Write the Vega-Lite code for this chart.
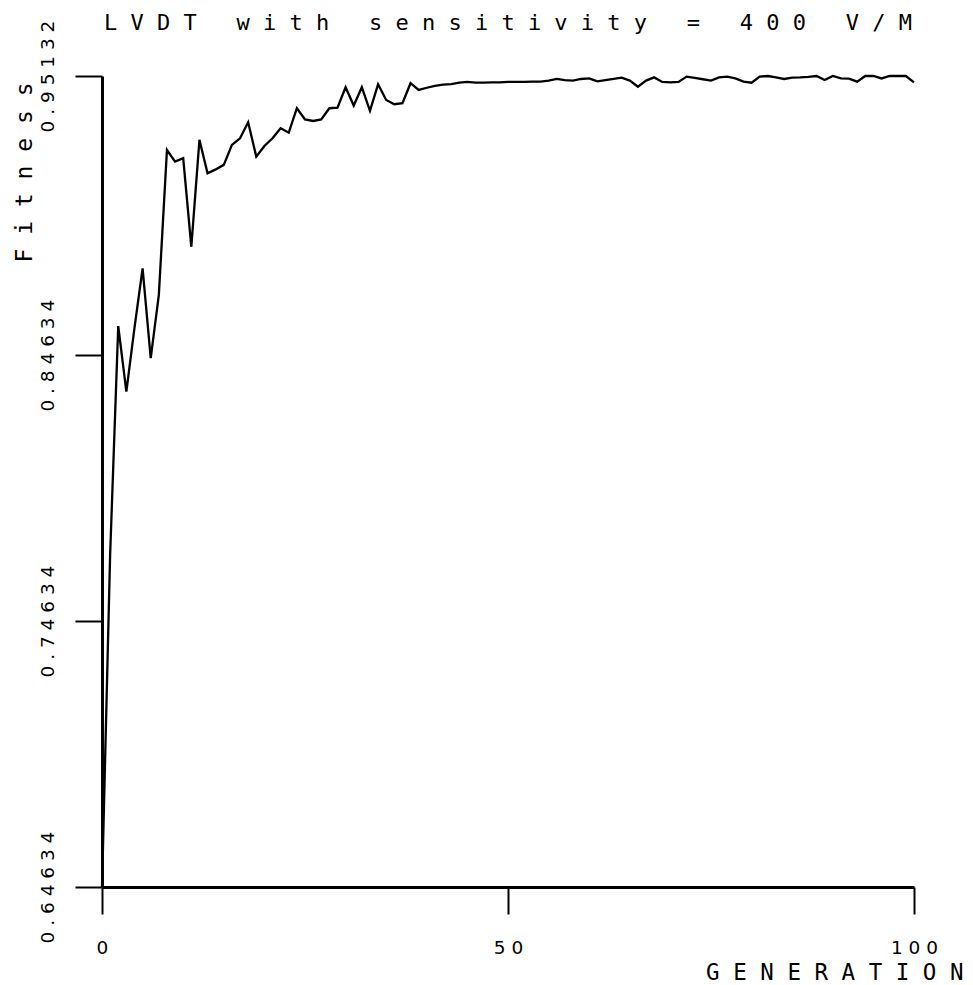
{
  "$schema": "https://vega.github.io/schema/vega-lite/v6.json",
  "width": 812,
  "height": 811,
  "autosize": {"type": "none"},
  "padding": {"left": 102, "top": 76, "right": 59, "bottom": 98},
  "background": "white",
  "config": {"view": {"stroke": null}},
  "title": {
    "text": "L V D T\u00a0\u00a0\u00a0w i t h\u00a0\u00a0\u00a0s e n s i t i v i t y\u00a0\u00a0\u00a0=\u00a0\u00a0\u00a04 0 0\u00a0\u00a0\u00a0V / M",
    "font": "DejaVu Sans Mono",
    "fontSize": 22,
    "fontWeight": "normal",
    "color": "black",
    "anchor": "middle",
    "frame": "group",
    "baseline": "alphabetic",
    "offset": -32
  },
  "data": {
    "values": [
      {"generation": 0, "fitness": 0.64634},
      {"generation": 1, "fitness": 0.7712},
      {"generation": 2, "fitness": 0.8573},
      {"generation": 3, "fitness": 0.8326},
      {"generation": 4, "fitness": 0.8566},
      {"generation": 5, "fitness": 0.879},
      {"generation": 6, "fitness": 0.8452},
      {"generation": 7, "fitness": 0.869},
      {"generation": 8, "fitness": 0.9235},
      {"generation": 9, "fitness": 0.9191},
      {"generation": 10, "fitness": 0.9204},
      {"generation": 11, "fitness": 0.8871},
      {"generation": 12, "fitness": 0.9273},
      {"generation": 13, "fitness": 0.9147},
      {"generation": 14, "fitness": 0.9162},
      {"generation": 15, "fitness": 0.9179},
      {"generation": 16, "fitness": 0.9254},
      {"generation": 17, "fitness": 0.9279},
      {"generation": 18, "fitness": 0.9339},
      {"generation": 19, "fitness": 0.921},
      {"generation": 20, "fitness": 0.925},
      {"generation": 21, "fitness": 0.9279},
      {"generation": 22, "fitness": 0.9317},
      {"generation": 23, "fitness": 0.93},
      {"generation": 24, "fitness": 0.9392},
      {"generation": 25, "fitness": 0.935},
      {"generation": 26, "fitness": 0.9344},
      {"generation": 27, "fitness": 0.935},
      {"generation": 28, "fitness": 0.9392},
      {"generation": 29, "fitness": 0.9394},
      {"generation": 30, "fitness": 0.9471},
      {"generation": 31, "fitness": 0.9402},
      {"generation": 32, "fitness": 0.9471},
      {"generation": 33, "fitness": 0.9382},
      {"generation": 34, "fitness": 0.9482},
      {"generation": 35, "fitness": 0.9423},
      {"generation": 36, "fitness": 0.9407},
      {"generation": 37, "fitness": 0.9411},
      {"generation": 38, "fitness": 0.9486},
      {"generation": 39, "fitness": 0.9461},
      {"generation": 40, "fitness": 0.9469},
      {"generation": 41, "fitness": 0.9476},
      {"generation": 42, "fitness": 0.9481},
      {"generation": 43, "fitness": 0.9483},
      {"generation": 44, "fitness": 0.9488},
      {"generation": 45, "fitness": 0.9491},
      {"generation": 46, "fitness": 0.9488},
      {"generation": 47, "fitness": 0.9488},
      {"generation": 48, "fitness": 0.9489},
      {"generation": 49, "fitness": 0.9489},
      {"generation": 50, "fitness": 0.9491},
      {"generation": 51, "fitness": 0.9491},
      {"generation": 52, "fitness": 0.9491},
      {"generation": 53, "fitness": 0.9492},
      {"generation": 54, "fitness": 0.9492},
      {"generation": 55, "fitness": 0.9496},
      {"generation": 56, "fitness": 0.9502},
      {"generation": 57, "fitness": 0.9498},
      {"generation": 58, "fitness": 0.9496},
      {"generation": 59, "fitness": 0.9502},
      {"generation": 60, "fitness": 0.9504},
      {"generation": 61, "fitness": 0.9493},
      {"generation": 62, "fitness": 0.9498},
      {"generation": 63, "fitness": 0.9502},
      {"generation": 64, "fitness": 0.9507},
      {"generation": 65, "fitness": 0.9496},
      {"generation": 66, "fitness": 0.9473},
      {"generation": 67, "fitness": 0.9496},
      {"generation": 68, "fitness": 0.9508},
      {"generation": 69, "fitness": 0.9491},
      {"generation": 70, "fitness": 0.9489},
      {"generation": 71, "fitness": 0.9491},
      {"generation": 72, "fitness": 0.9511},
      {"generation": 73, "fitness": 0.9506},
      {"generation": 74, "fitness": 0.9501},
      {"generation": 75, "fitness": 0.9496},
      {"generation": 76, "fitness": 0.9508},
      {"generation": 77, "fitness": 0.9511},
      {"generation": 78, "fitness": 0.9504},
      {"generation": 79, "fitness": 0.9492},
      {"generation": 80, "fitness": 0.9488},
      {"generation": 81, "fitness": 0.9511},
      {"generation": 82, "fitness": 0.95132},
      {"generation": 83, "fitness": 0.9508},
      {"generation": 84, "fitness": 0.9502},
      {"generation": 85, "fitness": 0.9507},
      {"generation": 86, "fitness": 0.9508},
      {"generation": 87, "fitness": 0.951},
      {"generation": 88, "fitness": 0.95132},
      {"generation": 89, "fitness": 0.9498},
      {"generation": 90, "fitness": 0.95132},
      {"generation": 91, "fitness": 0.9504},
      {"generation": 92, "fitness": 0.9503},
      {"generation": 93, "fitness": 0.9492},
      {"generation": 94, "fitness": 0.95132},
      {"generation": 95, "fitness": 0.95132},
      {"generation": 96, "fitness": 0.9504},
      {"generation": 97, "fitness": 0.95132},
      {"generation": 98, "fitness": 0.95132},
      {"generation": 99, "fitness": 0.95132},
      {"generation": 100, "fitness": 0.9489}
    ]
  },
  "mark": {"type": "line", "color": "black", "strokeWidth": 2.3},
  "encoding": {
    "x": {
      "field": "generation",
      "type": "quantitative",
      "scale": {"domain": [0, 100], "nice": false, "zero": false},
      "axis": {
        "values": [0, 50, 100],
        "format": "d",
        "labelExpr": "join(split(datum.label, ''), ' ')",
        "labelFont": "DejaVu Sans",
        "labelFontSize": 18.5,
        "labelColor": "black",
        "labelAngle": 0,
        "labelAlign": "center",
        "labelBaseline": "top",
        "labelPadding": 24,
        "labelFlush": false,
        "labelOverlap": false,
        "tickSize": 27,
        "tickWidth": 2,
        "tickColor": "black",
        "domainColor": "black",
        "domainWidth": 3,
        "grid": false,
        "title": "G E N E R A T I O N",
        "titleFont": "DejaVu Sans Mono",
        "titleFontSize": 22.5,
        "titleFontWeight": "normal",
        "titleColor": "black",
        "titleAlign": "right",
        "titleBaseline": "alphabetic",
        "titleX": 861,
        "titleY": 92
      }
    },
    "y": {
      "field": "fitness",
      "type": "quantitative",
      "scale": {"domain": [0.64634, 0.95132], "nice": false, "zero": false},
      "axis": {
        "values": [0.64634, 0.74634, 0.84634, 0.95132],
        "format": ".5f",
        "labelExpr": "join(split(datum.label, ''), ' ')",
        "labelFont": "DejaVu Sans",
        "labelFontSize": 18.5,
        "labelColor": "black",
        "labelAngle": 270,
        "labelAlign": "center",
        "labelBaseline": "middle",
        "labelPadding": 28,
        "labelOverlap": false,
        "tickSize": 27,
        "tickWidth": 2,
        "tickColor": "black",
        "domainColor": "black",
        "domainWidth": 3,
        "grid": false,
        "title": "F i t n e s s",
        "titleFont": "DejaVu Sans Mono",
        "titleFontSize": 23,
        "titleFontWeight": "normal",
        "titleColor": "black",
        "titleAngle": 270,
        "titleAlign": "center",
        "titleBaseline": "middle",
        "titleX": -78,
        "titleY": 96
      }
    }
  }
}
